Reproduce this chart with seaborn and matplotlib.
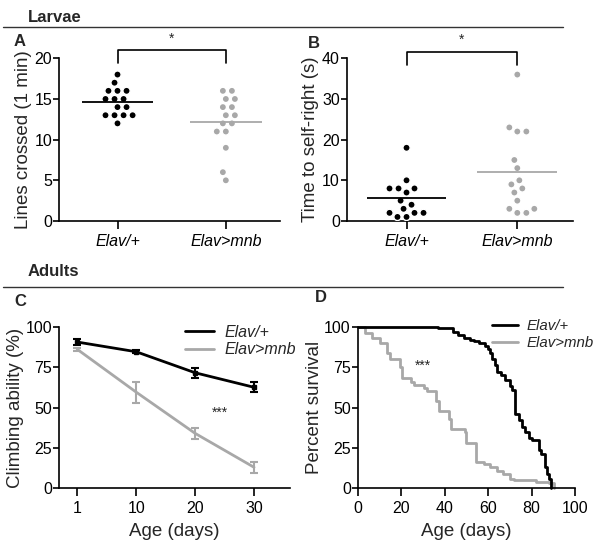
import numpy as np
import pandas as pd
import matplotlib
matplotlib.use("Agg")
import matplotlib.pyplot as plt
from matplotlib.lines import Line2D
import seaborn as sns

sns.set_theme(style="ticks")
plt.rcParams["font.family"] = ["Liberation Sans", "DejaVu Sans"]

GENOTYPES = ["Elav/+", "Elav>mnb"]
BLACK = "#000000"
GRAY = "#a8a8a8"
PALETTE = {"Elav/+": BLACK, "Elav>mnb": GRAY}

# Panel A: lines crossed in 1 min
lines_ctrl = [18, 17, 16, 16, 16, 15, 15, 15, 14, 14, 13, 13, 13, 13, 12]
lines_mnb = [16, 16, 15, 15, 14, 14, 13, 13, 12, 12, 11, 11, 9, 6, 5]

# Panel B: time to self-right (s)
right_ctrl = [18, 10, 8, 8, 8, 7, 5, 4, 3, 2, 2, 2, 1, 1]
right_mnb = [36, 23, 22, 22, 15, 13, 10, 9, 8, 7, 5, 3, 3, 2, 2]

# Panel C: climbing ability (%), mean and SEM
ages = ["1", "10", "20", "30"]
climb_ctrl = [90.5, 84.5, 71.5, 62.5]
climb_ctrl_err = [2.0, 1.0, 3.0, 3.0]
climb_mnb = [86, 59.5, 34, 13]
climb_mnb_err = [1.0, 6.5, 3.5, 3.5]

# Panel D: survival (step curves)
days_ctrl = [0, 37, 44, 46, 49, 51.5, 53.5, 56, 58.5, 60, 61, 62, 63, 64, 66, 68,
             70, 71, 72.5, 74, 75.5, 77, 79, 80, 83.5, 84.5, 86, 87, 88, 89]
surv_ctrl = [100, 99, 97, 95, 93, 92, 91, 90, 88, 86, 84, 80, 76, 72, 70, 67,
             63, 61, 46, 42, 38, 35, 31, 30, 24, 21, 13, 9, 6, 0]
days_mnb = [0, 3.4, 6.4, 10.3, 13.5, 15, 19.5, 20.3, 24.5, 26, 30.6, 32.1, 36, 37.5,
            42, 43, 49.5, 50, 54.5, 58, 61, 64, 67, 70, 72, 82, 88, 90.5]
surv_mnb = [100, 96, 93, 90, 84, 80, 75, 68, 66, 64, 62, 60, 54, 48,
            43, 37, 35, 28, 16, 15, 13, 11, 9, 6, 5, 4, 3, 0]

TICK = 11.5
LABEL = 13.5

fig = plt.figure(figsize=(6.04, 5.54), dpi=100)
W, H = 604, 554


def px_axes(left, right, top, bottom):
    return fig.add_axes([left / W, (H - bottom) / H, (right - left) / W, (bottom - top) / H])


def style(ax):
    sns.despine(ax=ax)
    for s in ["left", "bottom"]:
        ax.spines[s].set_linewidth(1.2)
        ax.spines[s].set_color("black")
    ax.tick_params(axis="y", length=4, width=1.2, labelsize=TICK, pad=1, colors="black")
    ax.tick_params(axis="x", length=6, width=1.2, labelsize=TICK, pad=3, colors="black")


def scatter_panel(ax, ctrl, mnb, ylabel, ymax, step, half, bracket):
    df = pd.DataFrame({
        "genotype": [GENOTYPES[0]] * len(ctrl) + [GENOTYPES[1]] * len(mnb),
        "value": ctrl + mnb,
    })
    # white edge pads the swarm so the dots keep small gaps, as in the original
    sns.swarmplot(data=df, x="genotype", y="value", hue="genotype", palette=PALETTE,
                  order=GENOTYPES, size=5.2, linewidth=1.0, edgecolor="white",
                  legend=False, ax=ax)
    means = df.groupby("genotype")["value"].mean()
    for i, g in enumerate(GENOTYPES):
        ax.hlines(means[g], i - half, i + half, color=PALETTE[g], lw=1.3, zorder=3)
    ax.set_ylim(0, ymax)
    ax.set_yticks(np.arange(0, ymax + 1, step))
    ax.set_xlim(-0.54, 1.5)
    ax.set_xlabel("")
    ax.set_ylabel(ylabel, fontsize=LABEL, labelpad=2)
    ax.set_xticks([0, 1])
    ax.set_xticklabels(GENOTYPES, fontstyle="italic", fontsize=12)
    lo, hi = bracket
    ax.plot([0, 0, 1, 1], [lo, hi, hi, lo], color="black", lw=1.2, clip_on=False)
    ax.text(0.5, hi + (hi - lo) * 0.35, "*", ha="center", va="bottom", fontsize=10)
    style(ax)


# A
axA = px_axes(59, 280, 58.3, 221)
scatter_panel(axA, lines_ctrl, lines_mnb, "Lines crossed (1 min)", 20, 5, 0.33, (19.4, 21.0))

# B
axB = px_axes(346.7, 572.7, 58.3, 221)
scatter_panel(axB, right_ctrl, right_mnb, "Time to self-right (s)", 40, 10, 0.36, (38.4, 41.6))

# C
axC = px_axes(59, 290, 326.7, 488.3)
climb_df = pd.DataFrame({
    "age": ages * 2,
    "climb": climb_ctrl + climb_mnb,
    "err": climb_ctrl_err + climb_mnb_err,
    "genotype": [GENOTYPES[0]] * 4 + [GENOTYPES[1]] * 4,
})
for g in GENOTYPES[::-1]:
    sub = climb_df[climb_df["genotype"] == g]
    axC.errorbar(sub["age"], sub["climb"], yerr=sub["err"], fmt="none",
                 ecolor=PALETTE[g], elinewidth=1.5, capsize=3, capthick=1.5, zorder=2)
sns.lineplot(data=climb_df, x="age", y="climb", hue="genotype", palette=PALETTE,
             hue_order=GENOTYPES, lw=2, sort=False, estimator=None, ax=axC)
sub = climb_df[climb_df["genotype"] == GENOTYPES[0]]
axC.plot(sub["age"], sub["climb"], "s", color=BLACK, ms=3.5, zorder=4)
axC.set_ylim(0, 100)
axC.set_yticks([0, 25, 50, 75, 100])
axC.set_xlim(-0.31, 3.61)
axC.set_xlabel("Age (days)", fontsize=LABEL, labelpad=5)
axC.set_ylabel("Climbing ability (%)", fontsize=LABEL, labelpad=1)
axC.text(2.42, 46.6, "***", ha="center", va="center", fontsize=10)
style(axC)
axC.legend(handles=[Line2D([], [], color=PALETTE[g], lw=2) for g in GENOTYPES],
           labels=GENOTYPES, loc="upper left", bbox_to_anchor=(0.545, 1.01),
           frameon=False, borderpad=0, borderaxespad=0, handlelength=1.8,
           handletextpad=0.7, labelspacing=0.15,
           prop={"style": "italic", "size": 11.5})

# D
axD = px_axes(357.7, 575, 326.7, 488.3)
surv_df = pd.DataFrame({
    "day": days_ctrl + days_mnb,
    "surv": surv_ctrl + surv_mnb,
    "genotype": [GENOTYPES[0]] * len(days_ctrl) + [GENOTYPES[1]] * len(days_mnb),
})
sns.lineplot(data=surv_df, x="day", y="surv", hue="genotype", palette=PALETTE,
             hue_order=GENOTYPES[::-1], estimator=None, drawstyle="steps-post",
             lw=2, legend=False, ax=axD)
for ln in axD.lines:
    ln.set_clip_on(False)
axD.set_xlim(0, 100)
axD.set_ylim(0, 100)
axD.set_xticks(range(0, 101, 20))
axD.set_yticks([0, 25, 50, 75, 100])
axD.set_xlabel("Age (days)", fontsize=LABEL, labelpad=5)
axD.set_ylabel("Percent survival", fontsize=LABEL, labelpad=1)
axD.text(30, 76, "***", ha="center", va="center", fontsize=10)
style(axD)
axD.legend(handles=[Line2D([], [], color=PALETTE[g], lw=2) for g in GENOTYPES],
           labels=GENOTYPES, loc="upper left", bbox_to_anchor=(0.62, 1.045),
           frameon=False, borderpad=0, borderaxespad=0, handlelength=1.7,
           handletextpad=0.6, labelspacing=0.2,
           prop={"style": "italic", "size": 10.8})

# section headers and panel letters
for label, ty, ly in [("Larvae", 17, 26.7), ("Adults", 272, 286.7)]:
    fig.text(28 / W, 1 - ty / H, label, fontsize=12, fontweight="bold", va="center", ha="left")
    fig.add_artist(Line2D([3 / W, 563 / W], [1 - ly / H] * 2, color="#333333", lw=1))
for letter, x, y in [("A", 14, 42), ("B", 308, 44), ("C", 14, 302), ("D", 315, 297)]:
    fig.text(x / W, 1 - y / H, letter, fontsize=12, fontweight="bold", va="center", ha="left")

fig.savefig("out.png", dpi=100)
